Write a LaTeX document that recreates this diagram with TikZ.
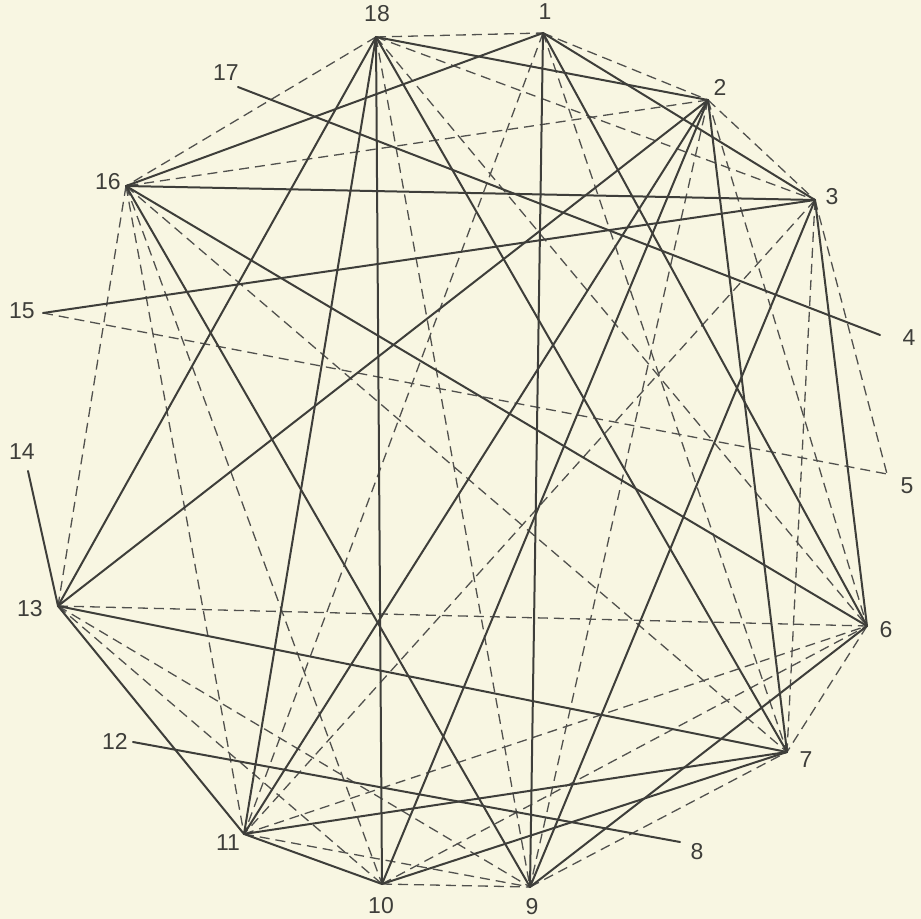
\documentclass[tikz,border=0pt]{standalone}
\usepackage{fontspec}
\setmainfont{Liberation Sans}
\definecolor{paper}{RGB}{248,246,226}
\definecolor{ink}{RGB}{62,62,58}
\begin{document}
\begin{tikzpicture}[x=0.5pt,y=-0.5pt,
  solidedge/.style={draw=ink,line width=1pt,line cap=round},
  dashedge/.style={draw=ink!90,line width=0.65pt,dash pattern=on 5pt off 3pt},
  lab/.style={text=ink,font=\fontsize{11.5}{13}\selectfont,inner sep=0pt}]
\fill[paper] (0,0) rectangle (921,919);
\useasboundingbox (0,0) rectangle (921,919);
% vertices
\coordinate (n1) at (543,33);
\coordinate (n2) at (708,100);
\coordinate (n3) at (815,200);
\coordinate (n4) at (880,335);
\coordinate (n5) at (887,474);
\coordinate (n6) at (867,626);
\coordinate (n7) at (787,752);
\coordinate (n8) at (680,842);
\coordinate (n9) at (530,887);
\coordinate (n10) at (382,884);
\coordinate (n11) at (244,834);
\coordinate (n12) at (133,742);
\coordinate (n13) at (58,606);
\coordinate (n14) at (28,471);
\coordinate (n15) at (43,313);
\coordinate (n16) at (126,186);
\coordinate (n17) at (238,87);
\coordinate (n18) at (376,37);
% labels
\node[lab] (l1) at (545,12) {1};
\node[lab] (l2) at (720,87) {2};
\node[lab] (l3) at (832,197) {3};
\node[lab] (l4) at (909,338) {4};
\node[lab] (l5) at (907,486) {5};
\node[lab] (l6) at (886,630) {6};
\node[lab] (l7) at (806,760) {7};
\node[lab] (l8) at (697,852) {8};
\node[lab] (l9) at (532,907) {9};
\node[lab] (l10) at (381,906) {10};
\node[lab] (l11) at (228,843) {11};
\node[lab] (l12) at (115,741) {12};
\node[lab] (l13) at (30,609) {13};
\node[lab] (l14) at (22,452) {14};
\node[lab] (l15) at (22,311) {15};
\node[lab] (l16) at (108,182) {16};
\node[lab] (l17) at (226,73) {17};
\node[lab] (l18) at (377,14) {18};
% dashed edges
\foreach \a/\b in {18/1,18/3,18/6,18/9,18/16,1/2,1/7,1/11,2/16,2/3,2/9,2/6,3/11,3/7,3/5,15/5,16/7,16/10,16/11,16/13,13/6,13/9,13/10,11/6,11/9,10/6,10/9,9/7,6/7}
  \draw[dashedge] (n\a) -- (n\b);
% solid edges
\foreach \a/\b in {18/2,18/7,18/10,18/11,18/13,1/3,1/16,1/9,1/6,2/13,2/11,2/10,2/7,3/16,3/15,3/9,3/6,16/6,16/9,13/14,13/7,13/11,11/7,11/10,10/7,9/6,17/4,12/8}
  \draw[solidedge] (n\a) -- (n\b);
\end{tikzpicture}
\end{document}
